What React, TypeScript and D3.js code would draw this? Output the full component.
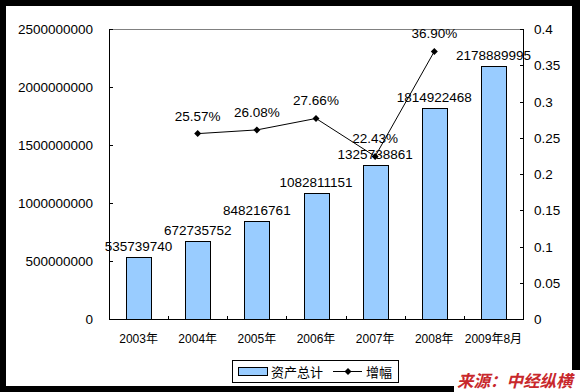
import React from 'react';
import * as d3 from 'd3';

const years = ['2003年', '2004年', '2005年', '2006年', '2007年', '2008年', '2009年8月'];
const assets = [535739740, 672735752, 848216761, 1082811151, 1325738861, 1814922468, 2178889995];
const growth: (number | null)[] = [null, 0.2557, 0.2608, 0.2766, 0.2243, 0.369, null];
const leftTicks = [0, 500000000, 1000000000, 1500000000, 2000000000, 2500000000];
const rightTicks = [0, 0.05, 0.1, 0.15, 0.2, 0.25, 0.3, 0.35, 0.4];
const legendLabels = ['资产总计', '增幅'];
const sourceText = '来源：中经纵横';

const W = 580;
const H = 392;
const plot = { left: 109, right: 523, top: 29, bottom: 319 };
const FONT = "'Liberation Sans', Arial, 'Noto Sans CJK SC', sans-serif";
const BAR = '#99CCFF';

export default function App() {
  const x = d3.scaleBand<string>().domain(years).range([plot.left, plot.right]).paddingInner(0).paddingOuter(0);
  const bw = x.bandwidth() * 0.42;
  const yL = d3.scaleLinear().domain([0, 2500000000]).range([plot.bottom, plot.top]);
  const yR = d3.scaleLinear().domain([0, 0.4]).range([plot.bottom, plot.top]);
  const fmtPct = d3.format('.2%');
  const fmtInt = d3.format('d');

  const pts = years
    .map((yr, i) => ({ yr, v: growth[i] }))
    .filter((d) => d.v !== null) as { yr: string; v: number }[];
  const line = d3
    .line<{ yr: string; v: number }>()
    .x((d) => (x(d.yr) as number) + x.bandwidth() / 2)
    .y((d) => yR(d.v));

  const diamond = (cx: number, cy: number, r: number) =>
    `M${cx},${cy - r}L${cx + r},${cy}L${cx},${cy + r}L${cx - r},${cy}Z`;

  return (
    <svg width={W} height={H} style={{ position: 'absolute', left: 0, top: 0 }} fontFamily={FONT}>
      <rect x={0} y={0} width={W} height={H} fill="#000" />
      <rect x={6} y={6} width={566} height={380} fill="#fff" />

      {/* plot top border */}
      <line x1={plot.left} x2={plot.right} y1={plot.top + 0.5} y2={plot.top + 0.5} stroke="#808080" />

      {/* bars */}
      {years.map((yr, i) => {
        const cx = (x(yr) as number) + x.bandwidth() / 2;
        const y0 = yL(assets[i]);
        return (
          <g key={yr}>
            <rect
              x={Math.round(cx - bw / 2) + 0.5}
              y={Math.round(y0) + 0.5}
              width={Math.round(bw)}
              height={plot.bottom - Math.round(y0)}
              fill={BAR}
              stroke="#000"
              strokeWidth={1}
            />
          </g>
        );
      })}

      {/* axes */}
      <line x1={plot.left + 0.5} x2={plot.left + 0.5} y1={plot.top} y2={plot.bottom + 1} stroke="#000" />
      <line x1={plot.right + 0.5} x2={plot.right + 0.5} y1={plot.top} y2={plot.bottom + 1} stroke="#000" />
      <line x1={plot.left} x2={plot.right + 1} y1={plot.bottom + 0.5} y2={plot.bottom + 0.5} stroke="#000" />

      {leftTicks.map((t) => (
        <g key={'l' + t}>
          <line x1={plot.left} x2={plot.left + 4} y1={Math.round(yL(t)) + 0.5} y2={Math.round(yL(t)) + 0.5} stroke="#000" />
          <text x={93} y={yL(t) + 5} textAnchor="end" fontSize={13.5} fill="#000">
            {fmtInt(t)}
          </text>
        </g>
      ))}
      {rightTicks.map((t) => (
        <g key={'r' + t}>
          <line x1={plot.right - 3} x2={plot.right + 1} y1={Math.round(yR(t)) + 0.5} y2={Math.round(yR(t)) + 0.5} stroke="#000" />
          <text x={534} y={yR(t) + 5} textAnchor="start" fontSize={13.5} fill="#000">
            {String(+t.toFixed(2))}
          </text>
        </g>
      ))}
      {years.slice(1).map((yr) => (
        <line
          key={'xt' + yr}
          x1={Math.round(x(yr) as number) + 0.5}
          x2={Math.round(x(yr) as number) + 0.5}
          y1={plot.bottom - 3}
          y2={plot.bottom + 1}
          stroke="#000"
        />
      ))}
      {years.map((yr) => (
        <text
          key={'xl' + yr}
          x={(x(yr) as number) + x.bandwidth() / 2}
          y={343}
          textAnchor="middle"
          fontSize={12}
          fill="#000"
        >
          {yr}
        </text>
      ))}

      {/* line */}
      <path d={line(pts) || ''} fill="none" stroke="#000" strokeWidth={1} />
      {pts.map((d) => {
        const cx = (x(d.yr) as number) + x.bandwidth() / 2;
        const cy = yR(d.v);
        return <path key={'m' + d.yr} d={diamond(cx, cy, 3.5)} fill="#000" />;
      })}

      {/* bar labels */}
      {years.map((yr, i) => (
        <text
          key={'bl' + yr}
          x={(x(yr) as number) + x.bandwidth() / 2}
          y={yL(assets[i]) - 6}
          textAnchor="middle"
          fontSize={13.5}
          fill="#000"
        >
          {fmtInt(assets[i])}
        </text>
      ))}
      {/* growth labels */}
      {pts.map((d) => (
        <text
          key={'gl' + d.yr}
          x={(x(d.yr) as number) + x.bandwidth() / 2}
          y={yR(d.v) - 13}
          textAnchor="middle"
          fontSize={13.5}
          fill="#000"
        >
          {fmtPct(d.v)}
        </text>
      ))}

      {/* legend */}
      <rect x={232.5} y={360.5} width={166} height={22} fill="#fff" stroke="#000" />
      <rect x={238.5} y={367.5} width={29} height={8} fill={BAR} stroke="#000" />
      <text x={271} y={376.5} fontSize={13} fill="#000">
        {legendLabels[0]}
      </text>
      <line x1={333} x2={362} y1={371.5} y2={371.5} stroke="#000" />
      <path d={diamond(348, 371.5, 3.5)} fill="#000" />
      <text x={366} y={376.5} fontSize={13} fill="#000">
        {legendLabels[1]}
      </text>

      {/* source watermark */}
      <rect x={454} y={370} width={126} height={22} fill="#fff" />
      <text
        x={457}
        y={387}
        fontSize={16.5}
        fontWeight="bold"
        fontStyle="italic"
        fill="#C8282C"
        fontFamily="'Noto Sans CJK SC', sans-serif"
      >
        {sourceText}
      </text>
    </svg>
  );
}
